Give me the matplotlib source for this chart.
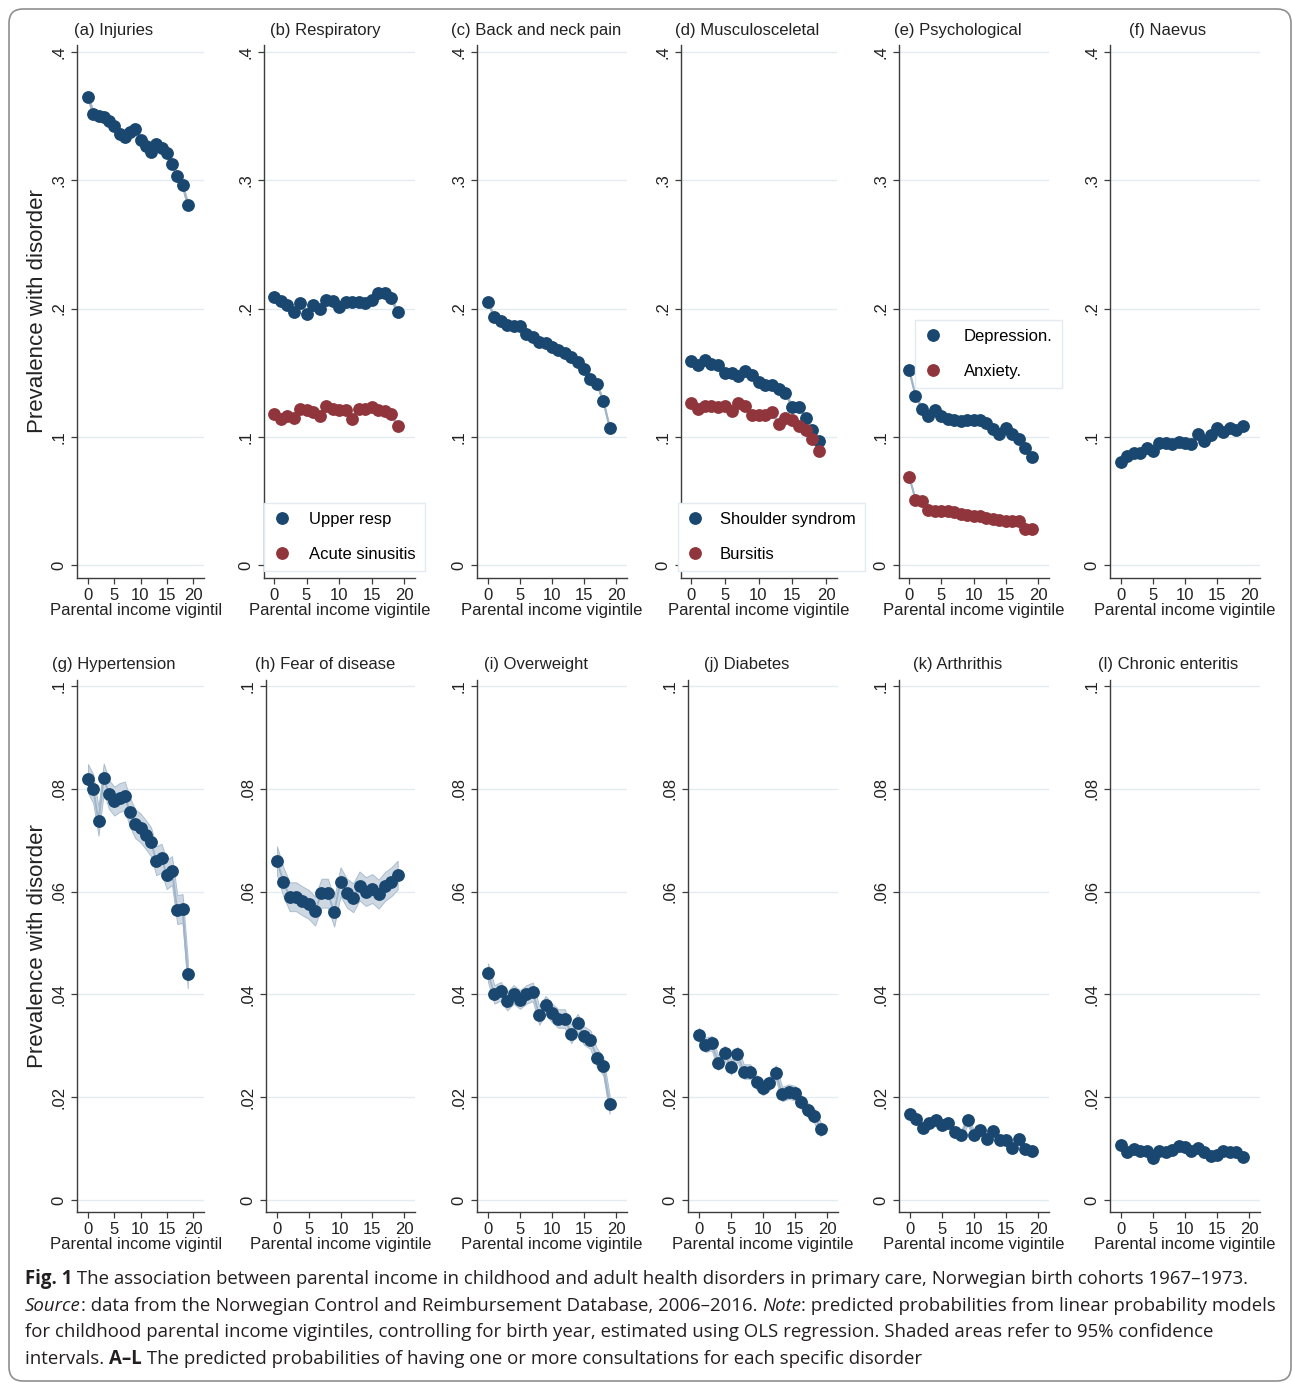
import matplotlib
matplotlib.use("Agg")
import numpy as np
import matplotlib.pyplot as plt
from matplotlib.lines import Line2D
from matplotlib.patches import FancyBboxPatch
from matplotlib.transforms import Bbox, IdentityTransform

plt.rcParams['font.family'] = ['Liberation Sans', 'DejaVu Sans']

W, H = 1292, 1383
NAVY = '#1a476f'
MAROON = '#90353b'
BAND = '#cdd8e3'
BAND_EDGE = '#aabdcf'
LINK = '#9fb4c9'
GRID = '#e2ebf0'
SPINE = '#3c3c3c'

vigintile = list(range(20))
xticks = [0, 5, 10, 15, 20]

# predicted probabilities by parental income vigintile
injuries = [.365, .352, .350, .349, .346, .342, .336, .334, .338, .340,
            .331, .327, .322, .328, .325, .321, .313, .303, .296, .281]
upper_resp = [.209, .206, .203, .197, .204, .196, .203, .200, .207, .206,
              .201, .205, .205, .205, .204, .207, .212, .212, .208, .197]
acute_sinusitis = [.118, .114, .116, .115, .122, .121, .119, .116, .124, .122,
                   .121, .121, .114, .122, .122, .123, .121, .120, .118, .108]
back_neck = [.205, .193, .190, .187, .186, .186, .180, .178, .174, .173,
             .170, .168, .165, .162, .158, .153, .145, .141, .128, .107]
shoulder = [.159, .156, .160, .157, .156, .150, .150, .147, .151, .148,
            .143, .140, .140, .137, .134, .123, .123, .115, .105, .097]
bursitis = [.126, .122, .124, .124, .123, .124, .120, .126, .124, .117,
            .117, .117, .119, .110, .115, .113, .108, .105, .098, .089]
depression = [.152, .132, .122, .116, .121, .116, .114, .113, .112, .113,
              .113, .113, .111, .106, .102, .107, .102, .098, .091, .084]
anxiety = [.069, .051, .050, .043, .042, .042, .042, .041, .040, .039,
           .038, .038, .037, .036, .035, .034, .034, .034, .028, .028]
naevus = [.080, .085, .087, .087, .091, .089, .095, .095, .094, .096,
          .095, .094, .102, .097, .101, .107, .104, .107, .105, .108]
hypertension = [.0820, .0800, .0737, .0821, .0789, .0776, .0783, .0786, .0754, .0732,
                .0724, .0711, .0697, .0660, .0665, .0633, .0641, .0565, .0567, .0440]
fear_disease = [.0660, .0619, .0590, .0590, .0582, .0575, .0562, .0597, .0597, .0560,
                .0619, .0597, .0588, .0611, .0600, .0606, .0595, .0610, .0619, .0632]
overweight = [.0442, .0400, .0406, .0387, .0400, .0390, .0400, .0405, .0359, .0379,
              .0364, .0353, .0353, .0323, .0344, .0320, .0312, .0277, .0261, .0186]
diabetes = [.0321, .0302, .0305, .0267, .0286, .0258, .0284, .0250, .0250, .0229,
            .0218, .0227, .0248, .0206, .0211, .0208, .0190, .0175, .0164, .0138]
arthritis = [.0168, .0158, .0141, .0149, .0156, .0146, .0150, .0132, .0127, .0155,
             .0127, .0136, .0119, .0134, .0116, .0116, .0101, .0119, .0099, .0095]
enteritis = [.0107, .0094, .0099, .0095, .0096, .0082, .0096, .0093, .0098, .0106,
             .0104, .0095, .0101, .0093, .0086, .0088, .0096, .0093, .0093, .0083]

# half width of the 95% confidence band for each series
ci_half = {
    'injuries': .0025, 'upper_resp': .002, 'acute_sinusitis': .0015,
    'back_neck': .0015, 'shoulder': .0015, 'bursitis': .0015,
    'depression': .0015, 'anxiety': .001, 'naevus': .0015,
    'hypertension': .0028, 'fear_disease': .0028, 'overweight': .0018,
    'diabetes': .0014, 'arthritis': .0009, 'enteritis': .0008,
}

top_yticks = [0, .1, .2, .3, .4]
top_ylabels = ['0', '.1', '.2', '.3', '.4']
bot_yticks = [0, .02, .04, .06, .08, .1]
bot_ylabels = ['0', '.02', '.04', '.06', '.08', '.1']

panels = [
    # title, series [(values, ci key, color, label)], (axis px, x=0 px, x=20 px)
    ('(a) Injuries', [(injuries, 'injuries', NAVY, None)], (77, 88, 193)),
    ('(b) Respiratory', [(upper_resp, 'upper_resp', NAVY, 'Upper resp'),
                         (acute_sinusitis, 'acute_sinusitis', MAROON, 'Acute sinusitis')], (264, 274, 404)),
    ('(c) Back and neck pain', [(back_neck, 'back_neck', NAVY, None)], (477, 488, 616)),
    ('(d) Musculosceletal', [(shoulder, 'shoulder', NAVY, 'Shoulder syndrom'),
                             (bursitis, 'bursitis', MAROON, 'Bursitis')], (681, 691, 826)),
    ('(e) Psychological', [(depression, 'depression', NAVY, 'Depression.'),
                           (anxiety, 'anxiety', MAROON, 'Anxiety.')], (899, 909, 1038)),
    ('(f) Naevus', [(naevus, 'naevus', NAVY, None)], (1110, 1121, 1249)),
    ('(g) Hypertension', [(hypertension, 'hypertension', NAVY, None)], (77, 88, 193)),
    ('(h) Fear of disease', [(fear_disease, 'fear_disease', NAVY, None)], (266, 277, 404)),
    ('(i) Overweight', [(overweight, 'overweight', NAVY, None)], (477, 488, 616)),
    ('(j) Diabetes', [(diabetes, 'diabetes', NAVY, None)], (688, 699, 827)),
    ('(k) Arthrithis', [(arthritis, 'arthritis', NAVY, None)], (899, 910, 1038)),
    ('(l) Chronic enteritis', [(enteritis, 'enteritis', NAVY, None)], (1110, 1121, 1249)),
]

# legend placement: panel index -> (box left px, box top px, handletextpad)
legend_pos = {1: (264, 503, 1.15), 3: (678, 503, 0.97), 4: (915, 320, 1.39)}

# row geometry in pixels: (axes top, axes bottom, title y, xlabel y, y range)
rows = [
    (45, 578, 31, 610, (565 - 578) / 1282.5, (565 - 45) / 1282.5),
    (680, 1212, 665, 1245, (1200 - 1212) / 5140, (1200 - 680) / 5140),
]

title_cx = [114, 325, 536, 747, 958, 1168]
cell_right = [221, 432, 643, 854, 1065, 1276]

fig = plt.figure(figsize=(W / 100, H / 100), dpi=100)
fig.patch.set_facecolor('white')

for i, (title, series, (axis_px, x0_px, x20_px)) in enumerate(panels):
    r, c = divmod(i, 6)
    top_px, bot_px, title_y, xlab_y, ylo, yhi = rows[r]
    scale = (x20_px - x0_px) / 20
    right_px = x20_px + 11
    ax = fig.add_axes([axis_px / W, 1 - bot_px / H,
                       (right_px - axis_px) / W, (bot_px - top_px) / H])
    ax.set_xlim(-(x0_px - axis_px) / scale, 20 + 11 / scale)
    ax.set_ylim(ylo, yhi)

    handles = []
    for vals, key, color, label in series:
        y = np.array(vals)
        hw = ci_half[key]
        ax.fill_between(vigintile, y - hw, y + hw, color=BAND, edgecolor=BAND_EDGE,
                        lw=0.7, zorder=1)
        ax.plot(vigintile, y, color=LINK, lw=1.4, zorder=2)
        ax.plot(vigintile, y, 'o', ms=8.2, color=color, mec=color, zorder=3)
        if label:
            handles.append(Line2D([], [], marker='o', ls='', ms=8.2, color=color, label=label))

    if r == 0:
        ax.set_yticks(top_yticks)
        ax.set_yticklabels(top_ylabels)
    else:
        ax.set_yticks(bot_yticks)
        ax.set_yticklabels(bot_ylabels)
    ax.set_xticks(xticks)
    for lab in ax.get_yticklabels():
        lab.set_rotation(90)
        lab.set_va('center')
    ax.tick_params(axis='y', length=4, width=0.9, pad=3.5, labelsize=12, colors=SPINE,
                   labelcolor='#222222')
    ax.tick_params(axis='x', length=4, width=0.9, pad=3.5, labelsize=12, colors=SPINE,
                   labelcolor='#222222')
    ax.yaxis.grid(True, color=GRID, lw=1.0)
    ax.set_axisbelow(True)
    for side in ('top', 'right'):
        ax.spines[side].set_visible(False)
    for side in ('left', 'bottom'):
        ax.spines[side].set_color(SPINE)
        ax.spines[side].set_linewidth(1.0)
    ax.patch.set_alpha(0)

    fig.text(title_cx[c] / W, 1 - title_y / H, title, ha='center', va='center',
             fontsize=12, color='#222222')

    # x title, clipped at the right edge of its cell
    xl = fig.text(((axis_px + right_px) / 2) / W, 1 - xlab_y / H,
                  'Parental income vigintile', ha='center', va='center',
                  fontsize=12, color='#222222')
    xl.set_clip_box(Bbox.from_extents(0, 0, cell_right[c], H))
    xl.set_clip_on(True)

    if handles:
        lx, ly, pad = legend_pos[i]
        leg = ax.legend(handles=handles, loc='upper left',
                        bbox_to_anchor=(lx / W, 1 - ly / H), bbox_transform=fig.transFigure,
                        borderaxespad=0, borderpad=0.55, labelspacing=1.2,
                        handlelength=1.0, handletextpad=pad, fontsize=12,
                        frameon=True, fancybox=False, framealpha=1)
        leg.get_frame().set_edgecolor('#e3eaf0')
        leg.get_frame().set_linewidth(1.0)

for r, (top_px, bot_px, *_rest) in enumerate(rows):
    fig.text(38 / W, 1 - ((top_px + bot_px) / 2) / H, 'Prevalence with disorder',
             rotation=90, ha='center', va='center', fontsize=16, color='#222222')

# caption, built segment by segment so the bold and italic parts flow inline
caption = [
    [("Fig. 1", 'bold', 'normal'),
     (" The association between parental income in childhood and adult health disorders "
      "in primary care, Norwegian birth cohorts 1967–1973.", 'normal', 'normal')],
    [("Source", 'normal', 'italic'),
     (": data from the Norwegian Control and Reimbursement Database, 2006–2016. ", 'normal', 'normal'),
     ("Note", 'normal', 'italic'),
     (": predicted probabilities from linear probability models", 'normal', 'normal')],
    [("for childhood parental income vigintiles, controlling for birth year, estimated using "
      "OLS regression. Shaded areas refer to 95% confidence", 'normal', 'normal')],
    [("intervals. ", 'normal', 'normal'), ("A–L", 'bold', 'normal'),
     (" The predicted probabilities of having one or more consultations for each specific disorder",
      'normal', 'normal')],
]
cap_font = ['Open Sans', 'DejaVu Sans']
renderer = fig.canvas.get_renderer()


def line_width(segments, size):
    total = 0
    for txt, weight, style in segments:
        t = fig.text(0, 0, txt, fontsize=size, family=cap_font, weight=weight, style=style)
        total += t.get_window_extent(renderer).width
        t.remove()
    return total


cap_size = 12 * 1215 / line_width(caption[0], 12)
for k, segments in enumerate(caption):
    x = 25
    y = H - (1279 + 26.7 * k)
    for txt, weight, style in segments:
        t = fig.text(x / W, y / H, txt, fontsize=cap_size, family=cap_font,
                     weight=weight, style=style, ha='left', va='center', color='#231f20')
        x += t.get_window_extent(renderer).width

border = FancyBboxPatch((9, 2), 1282, 1372, boxstyle='round,pad=0,rounding_size=14',
                        transform=IdentityTransform(), fill=False, ec='#8f8f8f', lw=1.2)
fig.add_artist(border)

fig.savefig('out.png', dpi=100, facecolor='white')
